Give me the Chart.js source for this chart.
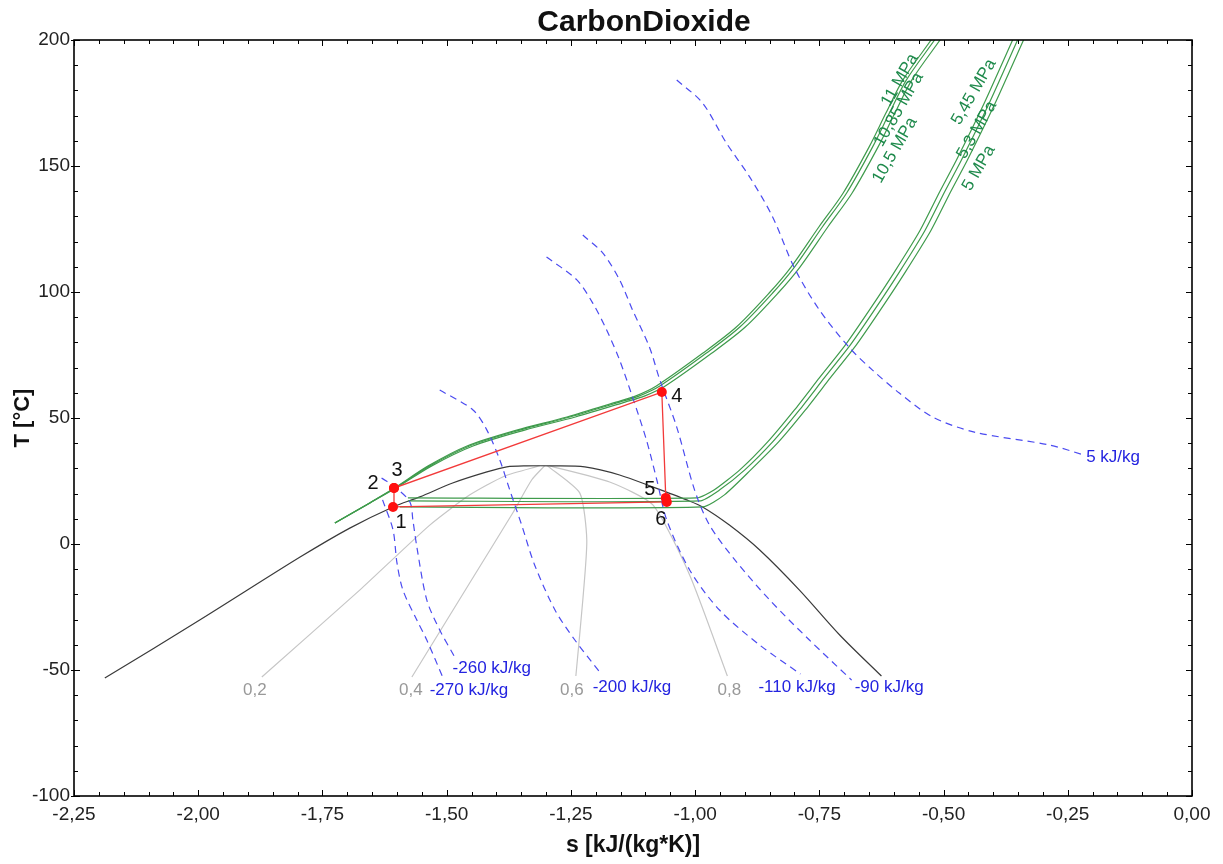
<!DOCTYPE html>
<html><head><meta charset="utf-8">
<script src="https://cdn.jsdelivr.net/npm/chart.js@4.4.1/dist/chart.umd.min.js"></script>
<style>html,body{margin:0;padding:0;background:#fff}#wrap{width:1223px;height:864px;position:relative}</style>
</head><body><div id="wrap"><canvas id="c"></canvas></div>
<script>
// ---- axis ticks ----
const sTicks = [-2.25,-2.00,-1.75,-1.50,-1.25,-1.00,-0.75,-0.50,-0.25,0.00];
const tTicks = [-100,-50,0,50,100,150,200];

// ---- saturation dome ----
const domeS = [-2.188,-1.997,-1.795,-1.695,-1.608,-1.554,-1.488,-1.419,-1.379,-1.339,-1.287,-1.222,-1.152,-1.085,-1.017,-0.985,-0.931,-0.870,-0.790,-0.709,-0.625];
const domeT = [-53.2,-30.2,-5.2,6.3,14.7,18.7,24.2,28.6,30.6,31.0,31.0,30.6,27.4,22.6,17.5,14.7,7.5,-2.4,-18.3,-36.1,-52.4];

// ---- vapour quality lines ----
const q02S = [-1.872,-1.675,-1.534,-1.454,-1.383,-1.313];
const q02T = [-52.8,-18.3,7.5,19.4,27.0,31.0];
const q04S = [-1.570,-1.450,-1.367,-1.329,-1.303];
const q04T = [-52.8,-14.3,12.3,25.4,31.0];
const q06S = [-1.297,-1.232,-1.218,-1.226,-1.240];
const q06T = [31.0,20.2,1.6,-22.2,-52.4];
const q08S = [-1.293,-1.172,-1.085,-1.011,-0.935];
const q08T = [31.0,24.6,15.5,-12.3,-52.4];

// ---- isobars (supercritical) ----
const pHiT   = [8.3,16.3,22.2,31.0,38.9,45.2,50.4,56.3,58.8,62.7,75.8,86.1,99.6,109.9,125.8,139.3,157.5,171.0,184.1,200];
const p110S  = [-1.725,-1.655,-1.605,-1.537,-1.459,-1.359,-1.258,-1.159,-1.119,-1.078,-0.984,-0.917,-0.851,-0.807,-0.751,-0.702,-0.650,-0.616,-0.582,-0.525];
const p1085S = [-1.725,-1.655,-1.604,-1.534,-1.454,-1.353,-1.252,-1.152,-1.112,-1.071,-0.977,-0.910,-0.844,-0.800,-0.744,-0.695,-0.643,-0.609,-0.575,-0.518];
const p105S  = [-1.725,-1.654,-1.602,-1.530,-1.447,-1.343,-1.241,-1.141,-1.101,-1.060,-0.966,-0.899,-0.833,-0.789,-0.733,-0.684,-0.632,-0.598,-0.564,-0.507];

// ---- isobars (subcritical) ----
const p545S = [-1.578,-0.997,-0.962,-0.910,-0.854,-0.800,-0.750,-0.699,-0.649,-0.599,-0.548,-0.508,-0.474,-0.418,-0.361];
const p545T = [18.3,18.3,21.4,29.4,40.5,53.2,65.9,78.6,92.9,107.9,124.2,139.7,152.4,175.0,200];
const p53S  = [-1.578,-0.991,-0.951,-0.900,-0.844,-0.790,-0.740,-0.689,-0.639,-0.589,-0.538,-0.498,-0.464,-0.408,-0.351];
const p53T  = [17.1,17.1,21.4,29.4,40.5,53.2,65.9,78.6,92.9,107.9,124.2,139.7,152.4,175.0,200];
const p50S  = [-1.594,-0.985,-0.941,-0.888,-0.832,-0.778,-0.728,-0.677,-0.627,-0.577,-0.526,-0.486,-0.452,-0.396,-0.339];
const p50T  = [14.7,14.7,19.5,29.4,40.5,53.2,65.9,78.6,92.9,107.9,124.2,139.7,152.4,175.0,200];

// ---- isenthalps ----
const h270S = [-1.629,-1.608,-1.600,-1.588,-1.560,-1.540,-1.508];
const h270T = [17.5,5.6,-7.5,-18.3,-30.2,-38.1,-52.8];
const h260S = [-1.631,-1.604,-1.574,-1.568,-1.560,-1.540,-1.514,-1.484];
const h260T = [26.2,22.6,16.7,9.5,-1.2,-22.2,-34.1,-44.8];
const h200S = [-1.514,-1.447,-1.419,-1.393,-1.373,-1.349,-1.323,-1.282,-1.242,-1.192];
const h200T = [61.1,53.2,45.2,33.3,21.4,7.5,-8.3,-26.2,-38.1,-50.8];
const h110S = [-1.299,-1.238,-1.206,-1.178,-1.152,-1.126,-1.098,-1.077,-1.057,-1.011,-0.951,-0.870,-0.788];
const h110T = [113.9,104.8,95.6,84.9,73.0,58.3,41.3,25.4,9.5,-10.3,-26.2,-40.1,-51.6];
const h90S  = [-1.226,-1.186,-1.152,-1.126,-1.092,-1.071,-1.037,-1.001,-0.971,-0.920,-0.850,-0.770,-0.685];
const h90T  = [122.6,115.5,104.8,92.9,78.2,65.1,46.4,21.4,7.5,-6.3,-22.2,-38.1,-54.0];
const h5S   = [-1.037,-0.985,-0.937,-0.890,-0.844,-0.800,-0.750,-0.689,-0.643,-0.589,-0.522,-0.438,-0.287,-0.217];
const h5T   = [184.1,175.0,159.1,145.6,129.8,109.5,92.9,77.8,69.0,59.9,50.4,44.4,39.3,35.3];

// ---- cycle ----
const cycS = [-1.608,-1.606,-1.606,-1.067,-1.059,-1.057,-1.608];
const cycT = [14.7,22.2,22.2,60.3,18.3,16.7,14.7];
const cycNames = ['1','2','3','4','5','6'];

// ---- labels ----
const titleText = 'CarbonDioxide';
const isobarNames = ['11 MPa','10,85 MPa','10,5 MPa','5,45 MPa','5,3 MPa','5 MPa'];
const isobarLabelS = [-0.588,-0.590,-0.598,-0.439,-0.433,-0.429];
const isobarLabelT = [184.1,172.4,156.3,179.4,164.3,149.2];
const isenthNames = ['-270 kJ/kg','-260 kJ/kg','-200 kJ/kg','-110 kJ/kg','-90 kJ/kg','5 kJ/kg'];
const qualityNames = ['0,2','0,4','0,6','0,8'];

const FONT = "'Liberation Sans', Arial, Helvetica, sans-serif";
Chart.defaults.font.family = FONT;

function pts(S,T){ return S.map((s,i)=>({x:s,y:T[i]})); }
function ln(S,T,color,w,dash,tension){
  return {data:pts(S,T),borderColor:color,borderWidth:w,borderDash:dash||[],pointRadius:0,
          showLine:true,fill:false,tension:tension===undefined?0.3:tension};
}
const GREEN='#3f9b4c', BLUE='#4b4bf0', GRAY='#c6c6c6', DOME='#3a3a3a';
const dash=[7,5];

const datasets = [
  Object.assign(ln(cycS,cycT,'#f23a3a',1.3,[],0),{pointRadius:[5,5,5,5,5,5,0],pointBackgroundColor:'#ff1010',pointBorderWidth:0}),
  ln(h270S,h270T,BLUE,1.2,dash), ln(h260S,h260T,BLUE,1.2,dash), ln(h200S,h200T,BLUE,1.2,dash),
  ln(h110S,h110T,BLUE,1.2,dash), ln(h90S,h90T,BLUE,1.2,dash), ln(h5S,h5T,BLUE,1.2,dash),
  ln(p110S,pHiT,GREEN,1.2), ln(p1085S,pHiT,GREEN,1.2), ln(p105S,pHiT,GREEN,1.2),
  ln(p545S,p545T,GREEN,1.2,[],0.2), ln(p53S,p53T,GREEN,1.2,[],0.2), ln(p50S,p50T,GREEN,1.2,[],0.2),
  ln(domeS,domeT,DOME,1.2),
  ln(q02S,q02T,GRAY,1.2,[],0.2), ln(q04S,q04T,GRAY,1.2,[],0.2), ln(q06S,q06T,GRAY,1.2,[],0.2), ln(q08S,q08T,GRAY,1.2,[],0.2)
];

const framePlugin = {
  id:'frame',
  afterDraw(chart){
    const {ctx, chartArea:a, scales:{x,y}} = chart;
    ctx.save();
    ctx.strokeStyle='#000'; ctx.lineWidth=1;
    ctx.beginPath();
    for(let i=0;i<=45;i++){
      const v=-2.25+i*0.05, px=Math.round(x.getPixelForValue(v))+0.5, L=(i%5===0)?6:4;
      ctx.moveTo(px,a.bottom); ctx.lineTo(px,a.bottom-L);
      ctx.moveTo(px,a.top); ctx.lineTo(px,a.top+L);
    }
    for(let i=0;i<=30;i++){
      const v=-100+i*10, py=Math.round(y.getPixelForValue(v))+0.5, L=(i%5===0)?6:4;
      ctx.moveTo(a.left,py); ctx.lineTo(a.left+L,py);
      ctx.moveTo(a.right,py); ctx.lineTo(a.right-L,py);
      if(i%5===0){ ctx.moveTo(a.left,py); ctx.lineTo(a.left-3,py); }
    }
    ctx.stroke();
    ctx.lineWidth=1.6;
    ctx.strokeRect(a.left,a.top,a.right-a.left,a.bottom-a.top);
    // chart title
    ctx.fillStyle='#111'; ctx.font='bold 30px '+FONT; ctx.textAlign='center'; ctx.textBaseline='alphabetic';
    ctx.fillText(titleText,(a.left+a.right)/2+11,31);
    ctx.restore();
  }
};

function lastPt(S,T){ return [S[S.length-1],T[T.length-1]]; }

const labelPlugin = {
  id:'labels',
  afterDatasetsDraw(chart){
    const {ctx, scales:{x,y}} = chart;
    const P=(s,t)=>[x.getPixelForValue(s),y.getPixelForValue(t)];
    ctx.save();
    ctx.textBaseline='middle';
    // isenthalp labels (blue)
    ctx.fillStyle='#2424e0'; ctx.font='17px '+FONT; ctx.textAlign='left';
    const hs=[[h270S,h270T,-13,13],[h260S,h260T,-2,11],[h200S,h200T,-7,15],[h110S,h110T,-42,13],[h90S,h90T,3,7],[h5S,h5T,2,2]];
    hs.forEach((h,i)=>{ const [s,t]=lastPt(h[0],h[1]); const [px,py]=P(s,t); ctx.fillText(isenthNames[i],px+h[2],py+h[3]); });
    // quality labels (gray)
    ctx.fillStyle='#999'; ctx.textAlign='center';
    const qs=[[q02S,q02T,-7,13,0],[q04S,q04T,-1,13,0],[q06S,q06T,-4,14,1],[q08S,q08T,2,14,1]];
    qs.forEach((q,i)=>{ const [ss,tt]= q[4]?lastPt(q[0],q[1]):[q[0][0],q[1][0]]; const [px,py]=P(ss,tt); ctx.fillText(qualityNames[i],px+q[2],py+q[3]); });
    // cycle point labels
    ctx.fillStyle='#111'; ctx.font='20px '+FONT; ctx.textAlign='center';
    const off=[[8,16],[-21,-5],[3,-18],[15,4],[-16,-8],[-6,18]];
    for(let i=0;i<6;i++){ const [px,py]=P(cycS[i],cycT[i]); ctx.fillText(cycNames[i],px+off[i][0],py+off[i][1]); }
    // isobar labels (rotated)
    ctx.fillStyle='#1f8a4c'; ctx.font='17px '+FONT; ctx.textAlign='center';
    isobarNames.forEach((n,i)=>{
      const [px,py]=P(isobarLabelS[i],isobarLabelT[i]);
      ctx.save(); ctx.translate(px,py); ctx.rotate(-60*Math.PI/180);
      ctx.fillText(n,0,0); ctx.restore();
    });
    ctx.restore();
  }
};

new Chart(document.getElementById('c'),{
  type:'scatter',
  data:{datasets},
  options:{
    responsive:true, maintainAspectRatio:false, animation:false,
    layout:{padding:{left:0,right:31,top:40,bottom:0}},
    plugins:{ legend:{display:false}, tooltip:{enabled:false}, title:{display:false} },
    scales:{
      x:{type:'linear',min:-2.25,max:0,
         afterBuildTicks:s=>{s.ticks=sTicks.map(v=>({value:v}));},
         afterFit:s=>{s.height=68;},
         grid:{display:false,drawTicks:false}, border:{display:false},
         ticks:{padding:7,color:'#222',font:{size:19},maxRotation:0,autoSkip:false,
                callback:v=>{const r=Math.round(v*100)/100;return (r===0?0:r).toFixed(2).replace('.',',');}},
         title:{display:true,text:'s [kJ/(kg*K)]',color:'#111',font:{size:23,weight:'bold'},padding:{top:0,bottom:5}}},
      y:{type:'linear',min:-100,max:200,
         afterBuildTicks:s=>{s.ticks=tTicks.map(v=>({value:v}));},
         afterFit:s=>{s.width=74;},
         grid:{display:false,drawTicks:false}, border:{display:false},
         ticks:{padding:4,color:'#222',font:{size:19},autoSkip:false},
         title:{display:true,text:'T [°C]',color:'#111',font:{size:22,weight:'bold'},padding:{top:10,bottom:0}}}
    }
  },
  plugins:[framePlugin,labelPlugin]
});
</script></body></html>
